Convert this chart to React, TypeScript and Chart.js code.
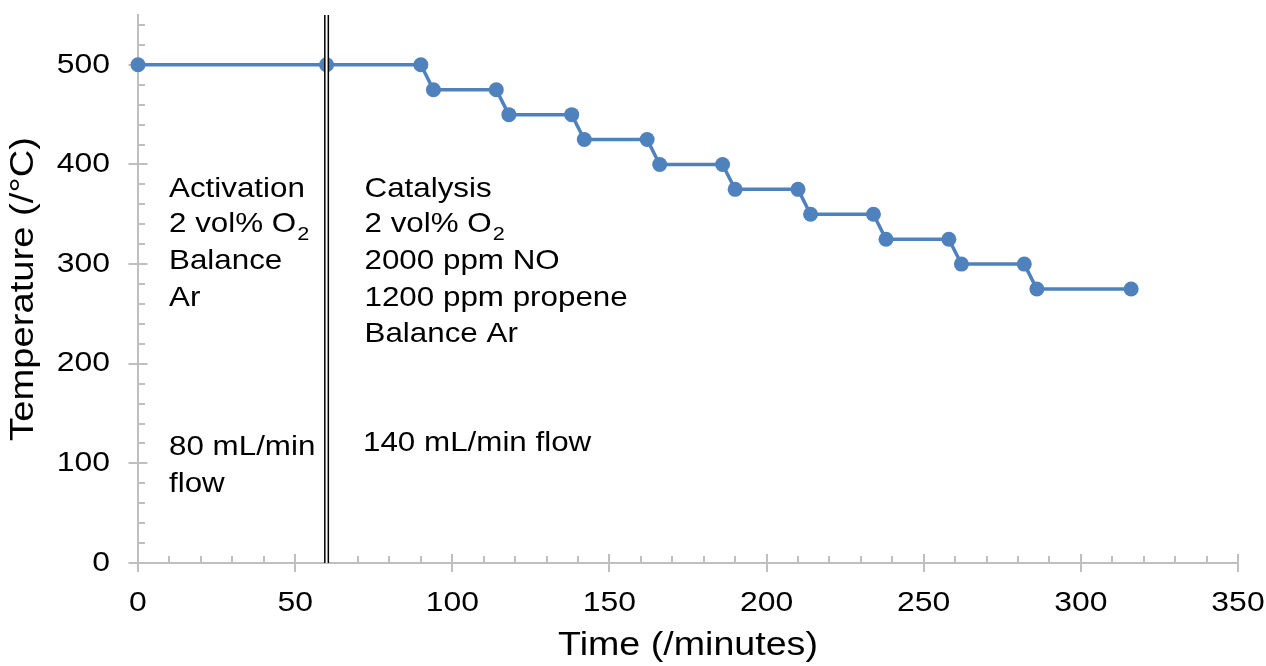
import React, { useEffect, useRef } from "react";
import { Chart, registerables } from "chart.js";

Chart.register(...registerables);

// ---- data ----
const TIME_MIN = [0, 60, 90, 94, 114, 118, 138, 142, 162, 166, 186, 190, 210, 214, 234, 238, 258, 262, 282, 286, 316];
const TEMP_C = [500, 500, 500, 475, 475, 450, 450, 425, 425, 400, 400, 375, 375, 350, 350, 325, 325, 300, 300, 275, 275];
const SWITCH_TIME = [60, 60];
const SWITCH_TEMP = [0, 550];
const X_TICKS = [0, 50, 100, 150, 200, 250, 300, 350];
const Y_TICKS = [0, 100, 200, 300, 400, 500];
const X_MAX = 350;
const Y_MAX = 550;
const X_MINOR_STEP = 10;
const Y_MINOR_STEP = 20;

const ACTIVATION_LINES = [
  { text: "Activation", sub: "" },
  { text: "2 vol% O", sub: "2" },
  { text: "Balance", sub: "" },
  { text: "Ar", sub: "" },
];
const CATALYSIS_LINES = [
  { text: "Catalysis", sub: "" },
  { text: "2 vol% O", sub: "2" },
  { text: "2000 ppm NO", sub: "" },
  { text: "1200 ppm propene", sub: "" },
  { text: "Balance Ar", sub: "" },
];
const ACTIVATION_FLOW = ["80 mL/min", "flow"];
const CATALYSIS_FLOW = ["140 mL/min flow"];

// ---- style ----
const FONT = '"Liberation Sans", Arial, sans-serif';
const BLUE = "#4f81bd";
const AXIS = "#bfbfbf";
const SX = 1.14; // horizontal text stretch
const BLOCK_BASELINES = [197, 232, 269, 306, 342];
const LEFT_TEXT_X = 169;
const RIGHT_TEXT_X = 364.5;

const tickPlugin = {
  id: "customTicks",
  beforeDatasetsDraw(chart: any) {
    const { ctx, chartArea } = chart;
    const xs = chart.scales.x;
    const ys = chart.scales.y;
    const { left, bottom } = chartArea;
    ctx.save();
    ctx.strokeStyle = AXIS;
    ctx.lineWidth = 2;
    ctx.beginPath();
    for (let v = 0; v <= X_MAX; v += X_MINOR_STEP) {
      const px = Math.round(xs.getPixelForValue(v));
      if (X_TICKS.includes(v)) {
        ctx.moveTo(px, bottom - 9);
        ctx.lineTo(px, bottom + 9);
      } else {
        ctx.moveTo(px, bottom - 7);
        ctx.lineTo(px, bottom);
      }
    }
    for (let v = 0; v <= Y_MAX; v += Y_MINOR_STEP) {
      const py = Math.round(ys.getPixelForValue(v));
      if (Y_TICKS.includes(v)) {
        ctx.moveTo(left - 9.5, py);
        ctx.lineTo(left + 9.5, py);
      } else {
        ctx.moveTo(left, py);
        ctx.lineTo(left + 7, py);
      }
    }
    ctx.stroke();
    ctx.restore();
  },
};

function drawLine(ctx: any, x: number, y: number, text: string, sub: string) {
  ctx.font = `27.5px ${FONT}`;
  ctx.fillText(text, x, y);
  if (sub) {
    const w = ctx.measureText(text).width * SX;
    ctx.font = `19px ${FONT}`;
    ctx.fillText(sub, x + w + 1, y + 8);
  }
}

const notesPlugin = {
  id: "notes",
  afterDatasetsDraw(chart: any) {
    const { ctx } = chart;
    ctx.save();
    ctx.fillStyle = "#000";
    ctx.textAlign = "left";
    ctx.textBaseline = "alphabetic";
    ACTIVATION_LINES.forEach((l, i) => drawLine(ctx, LEFT_TEXT_X, BLOCK_BASELINES[i], l.text, l.sub));
    CATALYSIS_LINES.forEach((l, i) => drawLine(ctx, RIGHT_TEXT_X, BLOCK_BASELINES[i], l.text, l.sub));
    drawLine(ctx, LEFT_TEXT_X, 455, ACTIVATION_FLOW[0], "");
    drawLine(ctx, LEFT_TEXT_X, 492, ACTIVATION_FLOW[1], "");
    drawLine(ctx, RIGHT_TEXT_X - 1.5, 451, CATALYSIS_FLOW[0], "");
    ctx.restore();
  },
};

export default function App() {
  const ref = useRef<HTMLCanvasElement | null>(null);

  useEffect(() => {
    const canvas = ref.current;
    if (!canvas) return;
    const ctx = canvas.getContext("2d") as any;
    const orig = ctx.fillText.bind(ctx);
    ctx.fillText = (text: string, x: number, y: number, maxWidth?: number) => {
      ctx.save();
      ctx.translate(x, y);
      ctx.scale(SX, 1);
      if (maxWidth === undefined || maxWidth === null) orig(text, 0, 0);
      else orig(text, 0, 0, maxWidth / SX);
      ctx.restore();
    };

    Chart.defaults.font.family = FONT;

    const mainData = TIME_MIN.map((t, i) => ({ x: t, y: TEMP_C[i] }));
    const switchData = SWITCH_TIME.map((t, i) => ({ x: t, y: SWITCH_TEMP[i] }));

    const chart = new Chart(canvas, {
      type: "scatter",
      data: {
        datasets: [
          {
            label: "switch-inner",
            data: switchData,
            showLine: true,
            borderColor: "#ffffff",
            borderWidth: 2,
            pointRadius: 0,
            order: 0,
            clip: false as any,
          },
          {
            label: "switch-outer",
            data: switchData,
            showLine: true,
            borderColor: "#000000",
            borderWidth: 5,
            pointRadius: 0,
            order: 1,
            clip: false as any,
          },
          {
            label: "Temperature",
            data: mainData,
            showLine: true,
            borderColor: BLUE,
            backgroundColor: BLUE,
            borderWidth: 3.5,
            pointRadius: 7.5,
            pointBorderWidth: 0,
            pointBackgroundColor: BLUE,
            pointHoverRadius: 7.5,
            tension: 0,
            order: 2,
            clip: false as any,
          },
        ],
      },
      options: {
        animation: false,
        responsive: false,
        events: [],
        layout: { padding: { top: 15, right: 28, left: 0, bottom: 0 } },
        plugins: { legend: { display: false }, tooltip: { enabled: false } },
        scales: {
          x: {
            type: "linear",
            min: 0,
            max: X_MAX,
            grid: { display: false, drawTicks: false },
            border: { display: true, color: AXIS, width: 2 },
            afterBuildTicks: (s: any) => {
              s.ticks = X_TICKS.map((v) => ({ value: v }));
            },
            afterFit: (s: any) => {
              s.height = 103;
              s.paddingLeft = 0;
              s.paddingRight = 0;
            },
            ticks: {
              color: "#000",
              font: { size: 28, family: FONT },
              padding: 23,
              maxRotation: 0,
              autoSkip: false,
            },
            title: {
              display: true,
              text: "Time (/minutes)",
              color: "#000",
              font: { size: 33, family: FONT },
              padding: { top: 0, bottom: 0 },
            },
          },
          y: {
            type: "linear",
            min: 0,
            max: Y_MAX,
            grid: { display: false, drawTicks: false },
            border: { display: true, color: AXIS, width: 2 },
            afterBuildTicks: (s: any) => {
              s.ticks = Y_TICKS.map((v) => ({ value: v }));
            },
            afterFit: (s: any) => {
              s.width = 138;
              s.paddingTop = 0;
              s.paddingBottom = 0;
            },
            ticks: {
              color: "#000",
              font: { size: 28, family: FONT },
              padding: 28,
              autoSkip: false,
            },
            title: {
              display: true,
              text: "Temperature (/°C)",
              color: "#000",
              font: { size: 33.5, family: FONT },
              padding: { top: 4, bottom: 0 },
            },
          },
        },
      },
      plugins: [tickPlugin, notesPlugin],
    } as any);

    return () => {
      chart.destroy();
    };
  }, []);

  return (
    <div style={{ position: "fixed", left: 0, top: 0, width: 1266, height: 666, background: "#fff" }}>
      <canvas ref={ref} width={1266} height={666} style={{ display: "block" }} />
    </div>
  );
}
